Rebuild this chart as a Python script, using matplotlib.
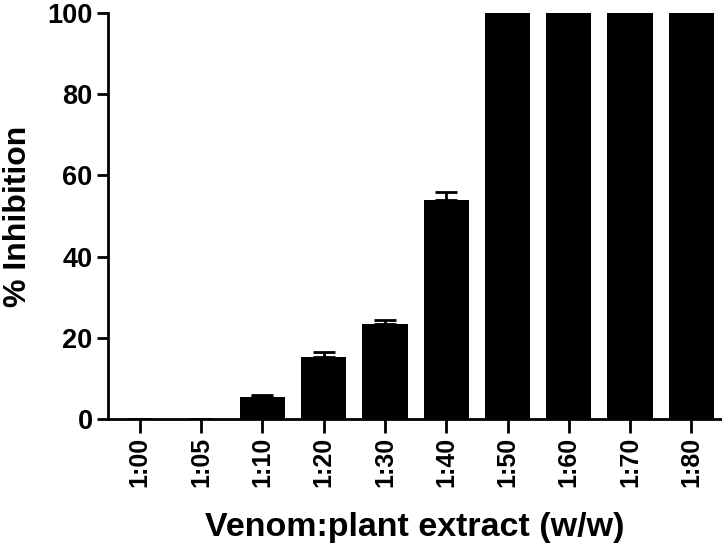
import numpy as np
from matplotlib import pyplot as plt

ratios = ['1:00', '1:05', '1:10', '1:20', '1:30', '1:40', '1:50', '1:60', '1:70', '1:80']
inhibition = [0, 0, 5.3, 15.2, 23.3, 54.0, 100, 100, 100, 100]
sem = [0, 0, 0.5, 1.4, 1.2, 2.0, 0, 0, 0, 0]

plt.rcParams['font.family'] = ['Liberation Sans', 'DejaVu Sans']
plt.rcParams['font.weight'] = 'bold'

fig = plt.figure(figsize=(7.22, 5.43), dpi=100)
ax = fig.add_axes([0.1496, 0.2284, 0.8504, 0.7476])

x = np.arange(len(ratios))
ax.bar(x, inhibition, width=0.74, color='black', zorder=2)
ax.errorbar(x, inhibition, yerr=[np.zeros(len(sem)), sem], fmt='none',
            ecolor='black', elinewidth=2, capsize=8, capthick=2, zorder=3)

ax.set_xlim(-0.52, 9.5)
ax.set_ylim(0, 100)
ax.set_yticks([0, 20, 40, 60, 80, 100])
ax.set_xticks(x)
ax.set_xticklabels(ratios, rotation=90)

for side in ['top', 'right']:
    ax.spines[side].set_visible(False)
for side in ['left', 'bottom']:
    ax.spines[side].set_linewidth(2)
ax.tick_params(axis='both', width=2, length=8, pad=3)
ax.tick_params(axis='y', labelsize=19.5)
ax.tick_params(axis='x', length=10, labelsize=18)

ax.set_ylabel('% Inhibition', fontsize=23, fontweight='bold', labelpad=10)
ax.set_xlabel('Venom:plant extract (w/w)', fontsize=24.5, fontweight='bold', labelpad=18)

fig.savefig('out.png', dpi=100)
